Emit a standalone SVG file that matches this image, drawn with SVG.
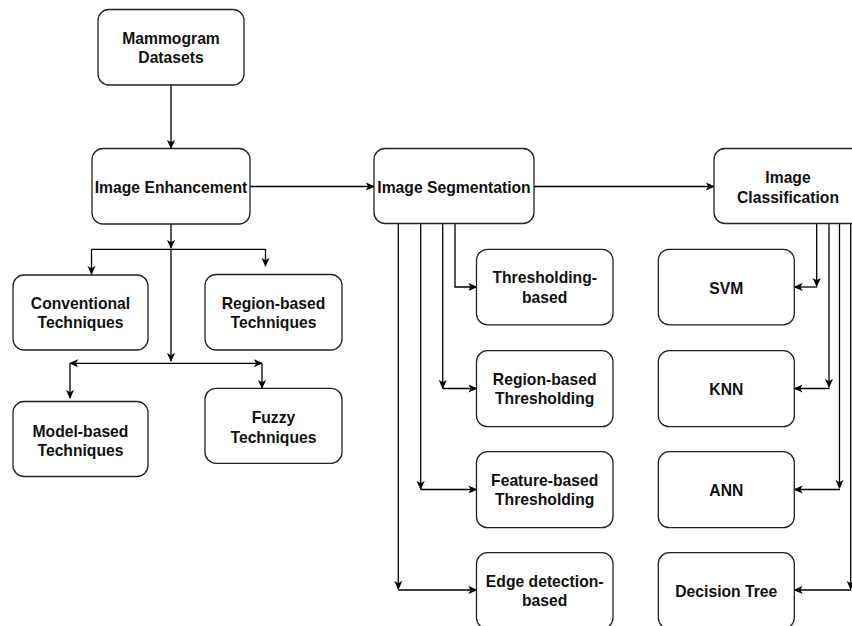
<svg xmlns="http://www.w3.org/2000/svg" width="852" height="626" viewBox="0 0 852 626">
  <defs>
    <marker id="arrow" viewBox="0 0 10 10" refX="9" refY="5" markerWidth="9" markerHeight="9" markerUnits="userSpaceOnUse" orient="auto-start-reverse">
      <path d="M0,0.5 L10,5 L0,9.5 L2.5,5 Z" fill="#000"/>
    </marker>
    <style>
      .box { fill: #fff; stroke: #222; stroke-width: 1.3; }
      .lbl { font-family: "Liberation Sans", Arial, sans-serif; font-weight: bold; font-size: 15.7px; fill: #111; text-anchor: middle; }
      .edge { fill: none; stroke: #000; stroke-width: 1.3; }
      .arr { marker-end: url(#arrow); }
    </style>
  </defs>
  <rect width="852" height="626" fill="#fff"/>

  <!-- connectors -->
  <g id="connectors">
    <path class="edge arr" d="M171,85 V148"/>
    <path class="edge arr" d="M250,186.5 H374"/>
    <path class="edge arr" d="M534,186.5 H714"/>

    <!-- enhancement branches -->
    <path class="edge arr" d="M171,224 V248"/>
    <path class="edge arr" d="M171,249 V361"/>
    <path class="edge" d="M91.5,249.3 H265.5"/>
    <path class="edge arr" d="M91.5,249.3 V274"/>
    <path class="edge arr" d="M265.5,249.3 V266"/>
    <path class="edge" d="M70,363.3 H262" marker-start="url(#arrow)" marker-end="url(#arrow)"/>
    <path class="edge arr" d="M70,363.3 V398"/>
    <path class="edge arr" d="M262,363.3 V388"/>

    <!-- segmentation branches -->
    <path class="edge arr" d="M455,223 V287 H476.5"/>
    <path class="edge arr" d="M442.7,223 V388"/>
    <path class="edge arr" d="M442.7,388.5 H476.5"/>
    <path class="edge arr" d="M420.7,223 V489"/>
    <path class="edge arr" d="M420.7,489.5 H476.5"/>
    <path class="edge arr" d="M398.3,223 V589"/>
    <path class="edge arr" d="M398.3,590 H476.5"/>

    <!-- classification branches -->
    <path class="edge arr" d="M816.7,223 V286"/>
    <path class="edge arr" d="M817.3,287 H794.5"/>
    <path class="edge arr" d="M829,223 V387"/>
    <path class="edge arr" d="M829.6,388.5 H794.5"/>
    <path class="edge arr" d="M839.5,223 V488"/>
    <path class="edge arr" d="M840.1,489.5 H794.5"/>
    <path class="edge arr" d="M850.7,223 V589"/>
    <path class="edge arr" d="M851.3,590 H794.5"/>
  </g>

  <g id="mammogram-datasets">
    <rect class="box" x="98" y="9.5" width="146" height="75.5" rx="11"/>
    <text class="lbl" x="171" y="44">Mammogram</text>
    <text class="lbl" x="171" y="63">Datasets</text>
  </g>
  <g id="image-enhancement">
    <rect class="box" x="92" y="148.5" width="158" height="75.5" rx="11"/>
    <text class="lbl" x="171" y="192.5">Image Enhancement</text>
  </g>
  <g id="conventional-techniques">
    <rect class="box" x="13" y="275" width="135" height="75" rx="11"/>
    <text class="lbl" x="80.5" y="309">Conventional</text>
    <text class="lbl" x="80.5" y="328.3">Techniques</text>
  </g>
  <g id="region-based-techniques">
    <rect class="box" x="205" y="274.5" width="137" height="75.5" rx="11"/>
    <text class="lbl" x="273.5" y="309">Region-based</text>
    <text class="lbl" x="273.5" y="328.3">Techniques</text>
  </g>
  <g id="model-based-techniques">
    <rect class="box" x="13" y="401.5" width="135" height="75" rx="11"/>
    <text class="lbl" x="80.5" y="436.7">Model-based</text>
    <text class="lbl" x="80.5" y="455.7">Techniques</text>
  </g>
  <g id="fuzzy-techniques">
    <rect class="box" x="205" y="388.3" width="137" height="75" rx="11"/>
    <text class="lbl" x="273.5" y="423.3">Fuzzy</text>
    <text class="lbl" x="273.5" y="442.7">Techniques</text>
  </g>

  <g id="image-segmentation">
    <rect class="box" x="374" y="148.5" width="160" height="75" rx="11"/>
    <text class="lbl" x="454" y="193">Image Segmentation</text>
  </g>
  <g id="thresholding-based">
    <rect class="box" x="476.5" y="249.3" width="136.5" height="75.5" rx="11"/>
    <text class="lbl" x="544.7" y="283">Thresholding-</text>
    <text class="lbl" x="544.7" y="302.5">based</text>
  </g>
  <g id="region-based-thresholding">
    <rect class="box" x="476.5" y="350.7" width="136.5" height="76" rx="11"/>
    <text class="lbl" x="544.7" y="385">Region-based</text>
    <text class="lbl" x="544.7" y="404.3">Thresholding</text>
  </g>
  <g id="feature-based-thresholding">
    <rect class="box" x="476.5" y="451.7" width="136.5" height="76" rx="11"/>
    <text class="lbl" x="544.7" y="486">Feature-based</text>
    <text class="lbl" x="544.7" y="505.3">Thresholding</text>
  </g>
  <g id="edge-detection-based">
    <rect class="box" x="476.5" y="552.7" width="136.5" height="76" rx="11"/>
    <text class="lbl" x="544.7" y="587">Edge detection-</text>
    <text class="lbl" x="544.7" y="606.3">based</text>
  </g>

  <g id="image-classification">
    <rect class="box" x="714" y="148.5" width="150" height="75" rx="11"/>
    <text class="lbl" x="788" y="183.3">Image</text>
    <text class="lbl" x="788" y="202.7">Classification</text>
  </g>
  <g id="svm">
    <rect class="box" x="658.3" y="249.3" width="136" height="75.5" rx="11"/>
    <text class="lbl" x="726.3" y="293.5">SVM</text>
  </g>
  <g id="knn">
    <rect class="box" x="658.3" y="350.7" width="136" height="76" rx="11"/>
    <text class="lbl" x="726.3" y="394.5">KNN</text>
  </g>
  <g id="ann">
    <rect class="box" x="658.3" y="451.7" width="136" height="76" rx="11"/>
    <text class="lbl" x="726.3" y="495.5">ANN</text>
  </g>
  <g id="decision-tree">
    <rect class="box" x="658.3" y="552.7" width="136" height="76" rx="11"/>
    <text class="lbl" x="726.3" y="596.5">Decision Tree</text>
  </g>
</svg>
